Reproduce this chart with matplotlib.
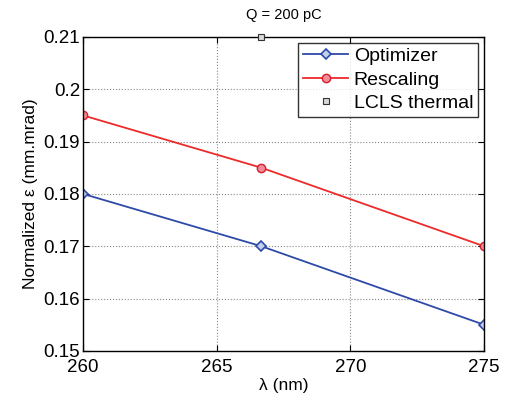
import numpy as np
import matplotlib
matplotlib.use('Agg')
import matplotlib.pyplot as plt

plt.rcParams['font.family'] = ['Liberation Sans', 'DejaVu Sans']

# Data
wavelength = [260, 266.67, 275]
optimizer = [0.18, 0.17, 0.155]
rescaling = [0.195, 0.185, 0.17]
lcls_x = [266.67]
lcls_y = [0.21]

fig = plt.figure(figsize=(5.06, 4.01), dpi=100)
ax = fig.add_axes([0.164, 0.125, 0.7925, 0.783])

ax.plot(wavelength, optimizer, '-', color='#2e4aa8', lw=1.3, marker='D', ms=5,
        mfc='#c5d0ee', mec='#2e4aa8', mew=1.2, label='Optimizer')
ax.plot(wavelength, rescaling, '-', color='#ee2a2a', lw=1.3, marker='o', ms=6,
        mfc='#f48a9a', mec='#d4202a', mew=1.0, label='Rescaling')
ax.plot(lcls_x, lcls_y, 's', ms=5, mfc='#d8d8d8', mec='#333333', mew=0.8,
        ls='none', label='LCLS thermal', clip_on=False, zorder=5)

ax.set_xlim(260, 275)
ax.set_ylim(0.15, 0.21)
ax.set_xticks([260, 265, 270, 275])
ax.set_yticks(np.arange(0.15, 0.2101, 0.01))
ax.set_yticklabels(['0.15', '0.16', '0.17', '0.18', '0.19', '0.2', '0.21'])
ax.tick_params(labelsize=13.5, direction='in', length=4, width=0.8, top=True, right=True)
ax.tick_params(axis='x', pad=6)
ax.tick_params(axis='y', pad=2)
ax.grid(True, ls=':', color='#888888', lw=0.8)
for s in ax.spines.values():
    s.set_linewidth(1.0)

ax.set_xlabel('λ (nm)', fontsize=12.5, labelpad=1)
ax.set_ylabel('Normalized ε (mm.mrad)', fontsize=12.5, labelpad=4)
ax.set_title('Q = 200 pC', fontsize=10.5, pad=13)

leg = ax.legend(loc='upper right', fontsize=14, frameon=True, fancybox=False,
                edgecolor='black', borderpad=0.25, labelspacing=0.3,
                handlelength=2.3, handletextpad=0.3, borderaxespad=0.3)
leg.get_frame().set_linewidth(1.0)

fig.savefig('out.png', dpi=100)
